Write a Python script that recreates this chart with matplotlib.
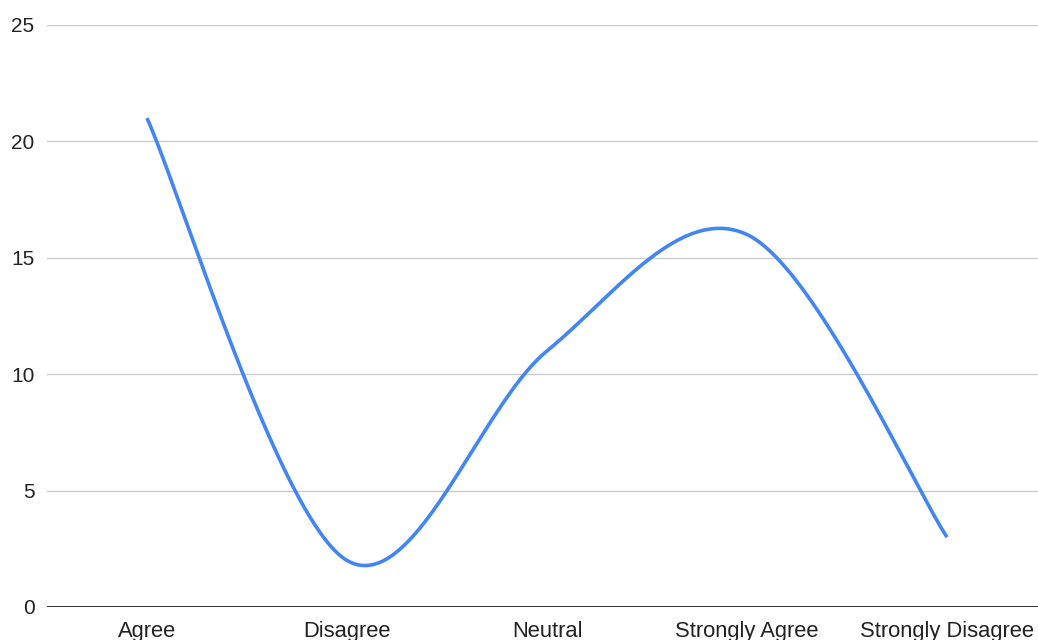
import numpy as np
import matplotlib
matplotlib.use("Agg")
import matplotlib.pyplot as plt

plt.rcParams['font.family'] = ['Liberation Sans', 'DejaVu Sans']

categories = ["Agree", "Disagree", "Neutral", "Strongly Agree", "Strongly Disagree"]
counts = [21, 2, 11, 16, 3]
y_ticks = [0, 5, 10, 15, 20, 25]

W, H = 1038, 640
fig = plt.figure(figsize=(W / 100, H / 100), dpi=100)
# plot area in pixels: left 47, right 1047 (runs past the edge), y=0 at 607, y=25 at 25
left, right, bottom, top = 47, 1047, 607, 25
ax = fig.add_axes([left / W, (H - bottom) / H, (right - left) / W, (bottom - top) / H])


def smooth_path(xs, ys, n=80):
    """Cubic Bezier through the points, Catmull-Rom control points, ends duplicated."""
    P = np.column_stack([np.asarray(xs, float), np.asarray(ys, float)])
    k = len(P)
    ext = np.vstack([P[0], P, P[-1]])
    out = []
    t = np.linspace(0, 1, n)[:, None]
    for i in range(k - 1):
        p0, p1, p2, p3 = ext[i], ext[i + 1], ext[i + 2], ext[i + 3]
        c1 = p1 + (p2 - p0) / 6.0
        c2 = p2 - (p3 - p1) / 6.0
        seg = ((1 - t) ** 3) * p1 + 3 * ((1 - t) ** 2) * t * c1 + 3 * (1 - t) * t**2 * c2 + t**3 * p2
        out.append(seg)
    pts = np.vstack(out)
    return pts[:, 0], pts[:, 1]


x = np.arange(len(categories))
sx, sy = smooth_path(x, counts)
ax.plot(sx, sy, color="#4285F4", linewidth=2.6, solid_capstyle="butt", zorder=3)

ax.set_xlim(-0.5, len(categories) - 0.5)
ax.set_ylim(0, 25)
ax.set_yticks(y_ticks)
ax.set_xticks(x)
ax.set_xticklabels(categories)

for yv in y_ticks[1:]:
    ax.axhline(yv, color="#cccccc", linewidth=1.0, zorder=1)
ax.axhline(0, color="#333333", linewidth=1.4, zorder=2)

for s in ax.spines.values():
    s.set_visible(False)
ax.tick_params(axis="both", length=0, colors="#222222")
ax.tick_params(axis="y", labelsize=15, pad=9)
ax.tick_params(axis="x", labelsize=15.8, pad=10)

fig.savefig("out.png", dpi=100)
